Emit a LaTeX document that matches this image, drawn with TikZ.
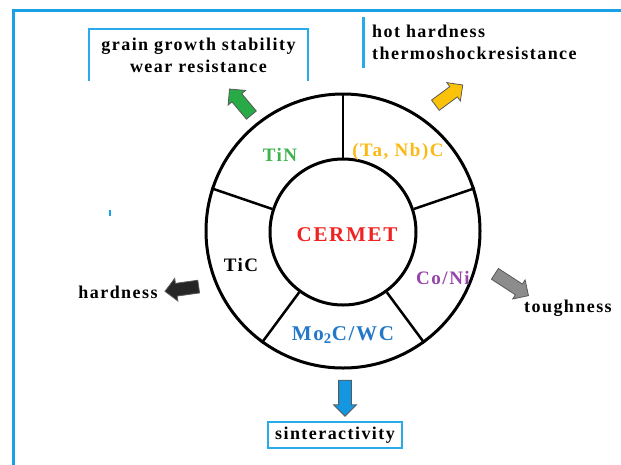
\documentclass[tikz,border=0pt]{standalone}
\usepackage{fontspec}
\setmainfont{Liberation Serif}[LetterSpace=8]
\usetikzlibrary{shapes.arrows}
\definecolor{frameblue}{RGB}{25,160,230}
\definecolor{boxblue}{RGB}{40,170,235}
\definecolor{tingreen}{RGB}{60,180,75}
\definecolor{taorange}{RGB}{250,185,20}
\definecolor{cermetred}{RGB}{240,35,35}
\definecolor{conipurple}{RGB}{150,70,170}
\definecolor{mowcblue}{RGB}{35,120,200}
\definecolor{arrgreen}{RGB}{40,170,70}
\definecolor{arryellow}{RGB}{250,195,10}
\definecolor{arrblue}{RGB}{20,150,225}
\newcommand{\lblfont}{\fontsize{18}{22}\selectfont\bfseries}
\newcommand{\ringfont}{\fontsize{19}{22}\selectfont\bfseries}
\newcommand{\corefont}{\fontsize{21}{24}\selectfont\bfseries}

\begin{document}
\begin{tikzpicture}[x=1pt, y=-1pt,
    lbl/.style={font=\lblfont, inner sep=0pt},
    ringlbl/.style={font=\ringfont, inner sep=0pt},
    fatarrow/.style={single arrow, draw=black!65, line width=0.8pt, inner sep=6pt,
        single arrow head extend=5pt, minimum height=34pt}]
    \useasboundingbox (0,0) rectangle (621,464);
    \clip (0,0) rectangle (621,464);
    % frame
    \draw[frameblue, line width=3pt] (13,10) rectangle (650,490);
    \draw[frameblue, line width=1.5pt] (110,210) -- (110,216);
    % wheel
    \node[circle, draw, line width=3pt, minimum size=274pt, inner sep=0pt] (ring) at (343,231) {};
    \node[circle, draw, line width=3pt, minimum size=146pt, inner sep=0pt] (core) at (343,232) {};
    \foreach \a in {90,18,-54,-126,162}
        \draw[line width=2.5pt] (core.\a) -- (ring.\a);
    \node[ringlbl, font=\corefont, text=cermetred] (cermet) at (347,235) {CERMET};
    \node[ringlbl, text=tingreen] (tin) at (280,155) {TiN};
    \node[ringlbl, text=taorange] (tanb) at (398,152) {(Ta, Nb)C};
    \node[ringlbl] (tic) at (241,265) {TiC};
    \node[ringlbl, text=conipurple] (coni) at (443,278) {Co/Ni};
    \node[ringlbl, text=mowcblue, font=\corefont] (mowc) at (343,335) {Mo\textsubscript{2}C/WC};
    % properties
    \node[lbl, minimum width=219pt, minimum height=52pt, align=center] (grain) at (198.5,55)
        {grain growth stability\\wear resistance};
    \draw[boxblue, line width=2pt] (grain.south west) |- (grain.north) -| (grain.south east);
    \node[lbl, anchor=west, align=left, inner xsep=9pt, minimum height=51pt] (hot) at (363,42.5)
        {hot hardness\\thermoshockresistance};
    \draw[boxblue, line width=3pt] (hot.north west) -- (hot.south west);
    \node[lbl] (hard) at (118,292) {hardness};
    \node[lbl] (tough) at (568,308) {toughness};
    \node[lbl, draw=boxblue, line width=2.5pt, minimum width=134pt, minimum height=26pt] (sinter)
        at (335,435) {sinteractivity};
    % arrows
    \node[fatarrow, fill=arrgreen, rotate=130] (arrtin) at (242.5,104.5) {};
    \node[fatarrow, fill=arryellow, rotate=36.5] (arrtanb) at (446.5,97) {};
    \node[fatarrow, fill=black!85, rotate=188] (arrtic) at (185,288.5) {};
    \node[fatarrow, fill=black!45, rotate=-33, minimum height=40pt] (arrconi) at (509,283) {};
    \node[fatarrow, fill=arrblue, rotate=-90, minimum height=36pt] (arrmowc) at (345,395) {};
\end{tikzpicture}
\end{document}
